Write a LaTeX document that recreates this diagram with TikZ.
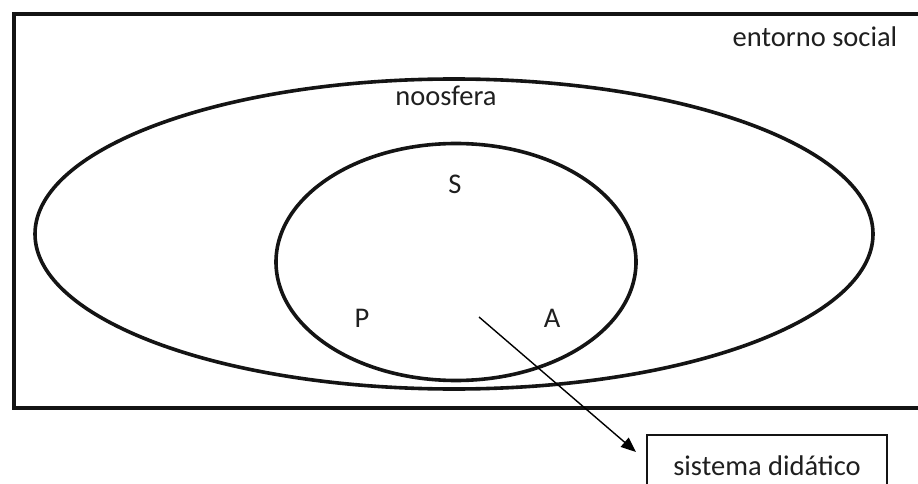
\documentclass[tikz,border=0pt]{standalone}
\usepackage{fontspec}
\setmainfont{Carlito}
\usetikzlibrary{shapes.geometric,arrows.meta}
\begin{document}
\begin{tikzpicture}[x=1pt,y=-1pt,
    rotulo/.style={font=\fontsize{28.5pt}{34pt}\selectfont,text=black!88,anchor=base},
    elipse/.style={draw=black!92,ellipse,line width=3.6pt,inner sep=0pt}]
  \useasboundingbox (0,0) rectangle (918,484);
  \clip (0,0) rectangle (918,484);
  % Marco del entorno social (sale por la derecha)
  \draw[line width=4.2pt,black!92] (14,14) rectangle (940,408);
  \node[elipse,minimum width=838pt,minimum height=310pt] (noosfera) at (454,234) {};
  \node[elipse,minimum width=360pt,minimum height=237pt] (sistema) at (456,262) {};
  \node[rotulo] (entorno) at (815,47) {entorno social};
  \node[rotulo] (noos) at (446,106) {noosfera};
  \node[rotulo] (saber) at (455,193) {S};
  \node[rotulo] (prof) at (362,327) {P};
  \node[rotulo] (alumno) at (552,327) {A};
  % Flecha hacia el recuadro
  \coordinate (origen) at (479,317);
  \coordinate (punta) at (636,452);
  \draw[line width=1.4pt,-{Triangle[length=15pt,width=12pt]}] (origen) -- (punta);
  \node[rotulo,draw=black!92,line width=1.3pt,minimum width=240pt,minimum height=60pt,
        text height=20pt,text depth=0pt] (didatico) at (767,475) {sistema didático};
\end{tikzpicture}
\end{document}
